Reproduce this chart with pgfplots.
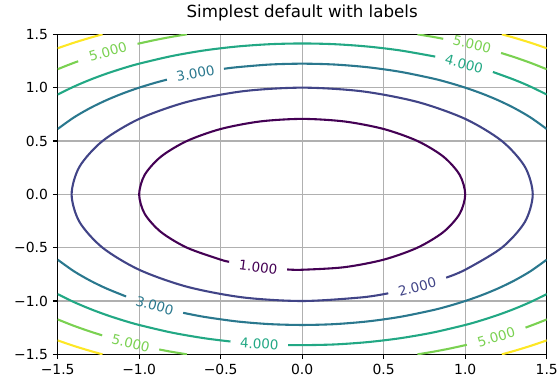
\documentclass[border=0pt]{standalone}
\usepackage{fontspec}
\setmainfont{DejaVu Sans}
\usepackage{pgfplots}
\pgfplotsset{compat=1.18}
\definecolor{lvA}{HTML}{440154}
\definecolor{lvB}{HTML}{414487}
\definecolor{lvC}{HTML}{2A788E}
\definecolor{lvD}{HTML}{22A884}
\definecolor{lvE}{HTML}{7AD151}
\definecolor{lvF}{HTML}{FDE725}
\definecolor{gridgray}{HTML}{B0B0B0}
\pgfplotsset{
  cA/.style={lvA, line width=1.5pt, smooth, no markers},
  cB/.style={lvB, line width=1.5pt, smooth, no markers},
  cC/.style={lvC, line width=1.5pt, smooth, no markers},
  cD/.style={lvD, line width=1.5pt, smooth, no markers},
  cE/.style={lvE, line width=1.5pt, smooth, no markers},
  cF/.style={lvF, line width=1.5pt, smooth, no markers},
}
\begin{document}
\begin{tikzpicture}
\begin{axis}[
  name=ax,
  scale only axis, width=352.1pt, height=230.4pt,
  xmin=-1.5, xmax=1.5, ymin=-1.5, ymax=1.5,
  xtick={-1.5,-1,-0.5,0,0.5,1,1.5},
  ytick={-1.5,-1,-0.5,0,0.5,1,1.5},
  xticklabels={−1.5,−1.0,−0.5,0.0,0.5,1.0,1.5},
  yticklabels={−1.5,−1.0,−0.5,0.0,0.5,1.0,1.5},
  grid=major, grid style={line width=0.8pt, color=gridgray},
  axis line style={line width=0.8pt, black},
  tick style={line width=0.8pt, black},
  tick align=outside, major tick length=3.5pt,
  xtick pos=left, ytick pos=left,
  ticklabel style={font=\fontsize{10}{12}\selectfont},
  title={Simplest default with labels},
  title style={at={(0.5,1)}, anchor=base, yshift=6pt, inner sep=0pt, font=\fontsize{12}{14}\selectfont},
]
% level 1
\addplot[cA] coordinates {(-0.092,-0.7041) (0,-0.7071) (0.2588,-0.6830) (0.5,-0.6124) (0.7071,-0.5) (0.8660,-0.3536) (0.9659,-0.1830) (1,0) (0.9659,0.1830) (0.8660,0.3536) (0.7071,0.5) (0.5,0.6124) (0.2588,0.6830) (0,0.7071) (-0.2588,0.6830) (-0.5,0.6124) (-0.7071,0.5) (-0.8660,0.3536) (-0.9659,0.1830) (-1,0) (-0.9659,-0.1830) (-0.8660,-0.3536) (-0.7071,-0.5) (-0.5,-0.6124) (-0.448,-0.6322)};
% level 2
\addplot[cB] coordinates {(0.883,-0.7811) (1.0,-0.7071) (1.2247,-0.5) (1.3660,-0.2588) (1.4142,0) (1.3660,0.2588) (1.2247,0.5) (1.0,0.7071) (0.7071,0.8660) (0.3660,0.9659) (0,1) (-0.3660,0.9659) (-0.7071,0.8660) (-1.0,0.7071) (-1.2247,0.5) (-1.3660,0.2588) (-1.4142,0) (-1.3660,-0.2588) (-1.2247,-0.5) (-1.0,-0.7071) (-0.7071,-0.8660) (-0.3660,-0.9659) (0,-1) (0.3660,-0.9659) (0.528,-0.9277)};
% level 3
\addplot[cC] coordinates {(-1.5,0.6124) (-1.4,0.7211) (-1.3,0.8093) (-1.2,0.8832) (-1.1,0.9460) (-1.0,1.0) (-0.9,1.0464) (-0.83,1.0750)};
\addplot[cC] coordinates {(-0.48,1.1768) (-0.4,1.1916) (-0.2,1.2166) (0,1.2247) (0.2,1.2166) (0.4,1.1916) (0.6,1.1489) (0.8,1.0863) (0.9,1.0464) (1.0,1.0) (1.1,0.9460) (1.2,0.8832) (1.3,0.8093) (1.4,0.7211) (1.5,0.6124)};
\addplot[cC] coordinates {(-1.5,-0.6124) (-1.4,-0.7211) (-1.3,-0.8093) (-1.2,-0.8832) (-1.08,-0.9575)};
\addplot[cC] coordinates {(-0.73,-1.1107) (-0.6,-1.1489) (-0.4,-1.1916) (-0.2,-1.2166) (0,-1.2247) (0.2,-1.2166) (0.4,-1.1916) (0.6,-1.1489) (0.8,-1.0863) (0.9,-1.0464) (1.0,-1.0) (1.1,-0.9460) (1.2,-0.8832) (1.3,-0.8093) (1.4,-0.7211) (1.5,-0.6124)};
% level 4
\addplot[cD] coordinates {(-1.5,0.9354) (-1.4,1.0100) (-1.3,1.0747) (-1.2,1.1314) (-1.1,1.1811) (-1.0,1.2247) (-0.8,1.2961) (-0.6,1.3491) (-0.4,1.3856) (-0.2,1.4071) (0,1.4142) (0.2,1.4071) (0.4,1.3856) (0.6,1.3491) (0.816,1.2911)};
\addplot[cD] coordinates {(1.17,1.1470) (1.3,1.0747) (1.4,1.0100) (1.5,0.9354)};
\addplot[cD] coordinates {(-1.5,-0.9354) (-1.4,-1.0100) (-1.3,-1.0747) (-1.2,-1.1314) (-1.1,-1.1811) (-1.0,-1.2247) (-0.8,-1.2961) (-0.6,-1.3491) (-0.44,-1.3796)};
\addplot[cD] coordinates {(-0.086,-1.4129) (0,-1.4142) (0.2,-1.4071) (0.4,-1.3856) (0.6,-1.3491) (0.8,-1.2961) (1.0,-1.2247) (1.1,-1.1811) (1.2,-1.1314) (1.3,-1.0747) (1.4,-1.0100) (1.5,-0.9354)};
% level 5
\addplot[cE] coordinates {(-1.5,1.1726) (-1.45,1.2036) (-1.4,1.2329) (-1.374,1.2474)};
\addplot[cE] coordinates {(-1.01,1.4107) (-0.9,1.4474) (-0.8,1.4765) (-0.7071,1.5)};
\addplot[cE] coordinates {(0.7071,1.5) (0.8,1.4765) (0.865,1.4580)};
\addplot[cE] coordinates {(1.22,1.3251) (1.3,1.2865) (1.4,1.2329) (1.5,1.1726)};
\addplot[cE] coordinates {(-1.5,-1.1726) (-1.4,-1.2329) (-1.3,-1.2865) (-1.227,-1.3218)};
\addplot[cE] coordinates {(-0.877,-1.4545) (-0.8,-1.4765) (-0.7071,-1.5)};
\addplot[cE] coordinates {(0.7071,-1.5) (0.8,-1.4765) (0.9,-1.4474) (1.01,-1.4107)};
\addplot[cE] coordinates {(1.37,-1.2496) (1.45,-1.2036) (1.5,-1.1726)};
% level 6
\addplot[cF] coordinates {(-1.5,1.3693) (-1.4,1.4213) (-1.3,1.4680) (-1.2247,1.5)};
\addplot[cF] coordinates {(1.5,1.3693) (1.4,1.4213) (1.3,1.4680) (1.2247,1.5)};
\addplot[cF] coordinates {(-1.5,-1.3693) (-1.4,-1.4213) (-1.3,-1.4680) (-1.2247,-1.5)};
\addplot[cF] coordinates {(1.5,-1.3693) (1.4,-1.4213) (1.3,-1.4680) (1.2247,-1.5)};
% labels
\begin{scope}[every node/.style={font=\fontsize{9.7}{11}\selectfont, inner sep=0pt}]
\node[text=lvE, rotate=16.2] at (axis cs:-1.192,1.338) {5.000};
\node[text=lvC, rotate=10.7] at (axis cs:-0.655,1.134) {3.000};
\node[text=lvE, rotate=-13.7] at (axis cs:1.0425,1.405) {5.000};
\node[text=lvD, rotate=-14.8] at (axis cs:0.993,1.222) {4.000};
\node[text=lvA, rotate=-7.4] at (axis cs:-0.27,-0.681) {1.000};
\node[text=lvB, rotate=14.9] at (axis cs:0.7055,-0.867) {2.000};
\node[text=lvC, rotate=-15.8] at (axis cs:-0.905,-1.044) {3.000};
\node[text=lvD, rotate=-3.5] at (axis cs:-0.263,-1.402) {4.000};
\node[text=lvE, rotate=-13.9] at (axis cs:-1.052,-1.395) {5.000};
\node[text=lvE, rotate=16.2] at (axis cs:1.19,-1.339) {5.000};
\end{scope}
\end{axis}
\pgfresetboundingbox
\path[use as bounding box] ([xshift=-41.5pt,yshift=-18pt]ax.south west) rectangle ([xshift=7.4pt,yshift=24.7pt]ax.north east);
\end{tikzpicture}
\end{document}
